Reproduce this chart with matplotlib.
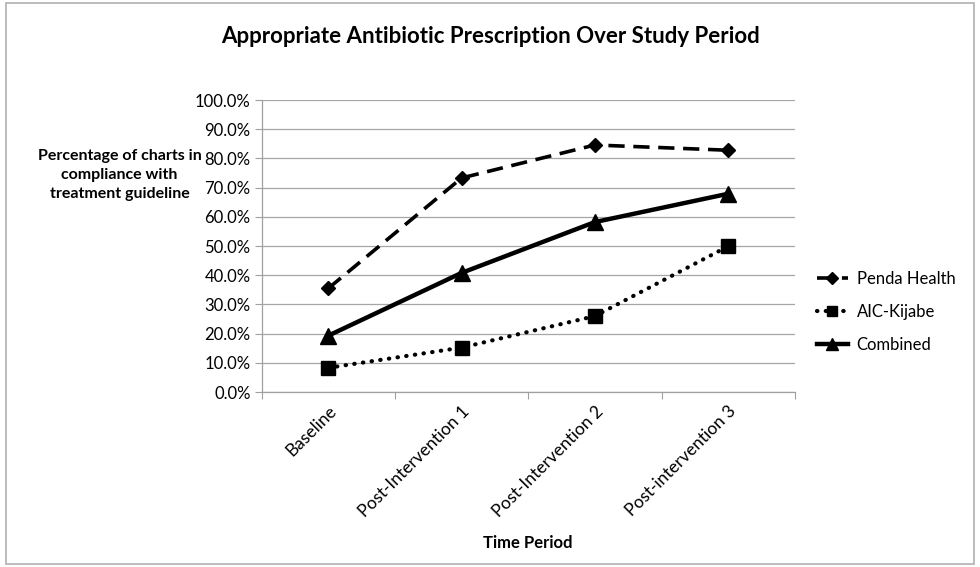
import matplotlib
matplotlib.use("Agg")
import matplotlib.pyplot as plt
from matplotlib.patches import Rectangle
from matplotlib.ticker import FixedLocator, PercentFormatter

plt.rcParams['font.family'] = ['Lato', 'DejaVu Sans']

periods = ['Baseline', 'Post-Intervention 1', 'Post-Intervention 2', 'Post-intervention 3']
penda = [35.5, 73.3, 84.6, 82.8]
kijabe = [8.3, 15.2, 26.0, 49.9]
combined = [19.3, 40.8, 58.2, 67.9]

fig = plt.figure(figsize=(9.8, 5.67), dpi=100)
ax = fig.add_axes([0.267, 0.3086, 0.544, 0.5150])

x = range(len(periods))
ax.plot(x, penda, color='black', lw=2.6, ls=(0, (4.5, 2.4)), marker='D', ms=7.5,
        label='Penda Health', zorder=3)
ax.plot(x, kijabe, color='black', lw=3.0, ls=(0, (0.1, 2.0)), dash_capstyle='round',
        marker='s', ms=9.5, label='AIC-Kijabe', zorder=3)
ax.plot(x, combined, color='black', lw=3.2, ls='-', marker='^', ms=11,
        label='Combined', zorder=3)

ax.set_ylim(0, 100)
ax.set_yticks(range(0, 101, 10))
ax.yaxis.set_major_formatter(PercentFormatter(decimals=1))
ax.set_xlim(-0.5, len(periods) - 0.5)
ax.xaxis.set_major_locator(FixedLocator([i - 0.5 for i in range(len(periods) + 1)]))
ax.xaxis.set_major_formatter(plt.NullFormatter())
ax.xaxis.set_minor_locator(FixedLocator(list(x)))
ax.set_xticklabels(periods, minor=True, rotation=45, ha='right',
                   rotation_mode='anchor', fontsize=12.5)
ax.tick_params(axis='x', which='minor', length=0, pad=8)
ax.tick_params(axis='x', which='major', length=5, color='#a0a0a0')
ax.tick_params(axis='y', length=5, color='#a0a0a0', labelsize=12, pad=3)

ax.grid(axis='y', color='#a6a6a6', lw=0.9)
ax.set_axisbelow(True)
for s in ['top', 'right']:
    ax.spines[s].set_visible(False)
for s in ['left', 'bottom']:
    ax.spines[s].set_color('#a0a0a0')
    ax.spines[s].set_linewidth(0.9)

fig.text(0.5, 0.935, 'Appropriate Antibiotic Prescription Over Study Period',
         ha='center', va='center', fontsize=16, fontweight='bold')
fig.text(0.122, 0.692, 'Percentage of charts in\ncompliance with\ntreatment guideline',
         ha='center', va='center', fontsize=11.5, fontweight='bold', linespacing=1.45)
fig.text(0.539, 0.042, 'Time Period', ha='center', va='center',
         fontsize=12, fontweight='bold')

fig.legend(loc='center left', bbox_to_anchor=(0.818, 0.45), frameon=False,
           fontsize=12, handlelength=1.9, handletextpad=0.5, labelspacing=1.0,
           markerscale=0.8)

fig.patches.append(Rectangle((0.006, 0.006), 0.988, 0.988, transform=fig.transFigure,
                             fill=False, edgecolor='#b0b0b0', lw=1.2))

fig.savefig('out.png', dpi=100)
